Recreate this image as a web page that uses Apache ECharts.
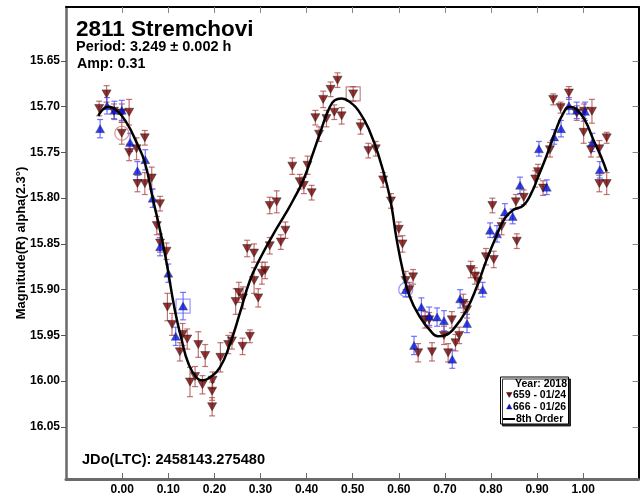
<!DOCTYPE html>
<html>
<head>
<meta charset="utf-8">
<script src="https://cdn.jsdelivr.net/npm/echarts@6/dist/echarts.min.js"></script>
<style>
html,body{margin:0;padding:0;background:#fff;}
#chart{width:640px;height:495px;}
</style>
</head>
<body>
<div id="chart"></div>
<script>
// ---- data: [phase, magnitude, error] ----
var session659 = [
  [-0.050,15.702,0.008],[-0.034,15.686,0.009],[-0.018,15.705,0.008],[-0.001,15.707,0.010],
  [0.015,15.706,0.014],[-0.001,15.729,0.012],[0.015,15.750,0.009],[0.031,15.746,0.012],
  [0.049,15.734,0.008],[0.033,15.784,0.009],[0.049,15.784,0.012],[0.064,15.778,0.012],
  [0.082,15.806,0.008],[0.075,15.830,0.010],[0.082,15.849,0.010],[0.096,15.858,0.009],
  [0.271,15.855,0.009],[0.286,15.860,0.010],
  [0.098,15.919,0.015],[0.108,15.938,0.012],[0.131,15.949,0.012],[0.141,15.954,0.011],
  [0.125,15.968,0.010],[0.165,15.960,0.014],[0.180,15.972,0.012],[0.147,16.001,0.016],
  [0.158,15.995,0.011],[0.174,16.004,0.010],[0.196,15.999,0.009],[0.195,16.011,0.010],
  [0.195,16.028,0.010],[0.213,15.974,0.016],[0.230,15.960,0.010],[0.238,15.956,0.009],
  [0.261,15.962,0.009],[0.277,15.951,0.007],[0.246,15.913,0.014],[0.253,15.903,0.011],
  [0.262,15.909,0.012],[0.295,15.909,0.010],[0.286,15.890,0.014],[0.303,15.882,0.012],
  [0.310,15.879,0.009],[0.320,15.808,0.009],[0.335,15.804,0.012],[0.320,15.852,0.009],
  [0.344,15.848,0.008],[0.354,15.835,0.009],
  [0.467,15.671,0.008],[0.452,15.681,0.008],[0.436,15.692,0.009],[0.501,15.686,0.008],
  [0.419,15.712,0.008],[0.443,15.713,0.009],[0.460,15.706,0.008],[0.476,15.710,0.009],
  [0.427,15.730,0.008],[0.517,15.722,0.008],[0.534,15.748,0.008],[0.550,15.746,0.008],
  [0.566,15.780,0.008],[0.583,15.803,0.008],[0.600,15.834,0.008],[0.369,15.765,0.009],
  [0.402,15.764,0.010],[0.385,15.782,0.008],[0.394,15.786,0.009],[0.411,15.794,0.008],
  [0.608,15.850,0.009],[0.615,15.890,0.010],[0.631,15.886,0.008],[0.623,15.900,0.008],
  [0.657,15.933,0.009],[0.666,15.933,0.008],[0.642,15.969,0.010],[0.672,15.968,0.010],
  [0.698,15.950,0.010],[0.715,15.933,0.009],[0.707,15.969,0.010],[0.723,15.958,0.009],
  [0.731,15.950,0.009],[0.740,15.915,0.010],[0.748,15.922,0.009],[0.756,15.878,0.009],
  [0.765,15.885,0.009],[0.772,15.891,0.009],[0.789,15.864,0.009],[0.806,15.867,0.009],
  [0.823,15.831,0.009],[0.856,15.847,0.008],[0.803,15.808,0.008],[0.854,15.804,0.008],
  [0.935,15.692,0.006],[0.951,15.701,0.006],[0.969,15.685,0.007],[0.986,15.707,0.008],
  [1.002,15.705,0.008],[1.019,15.705,0.013],[1.001,15.728,0.012],[1.017,15.747,0.008],
  [1.035,15.746,0.009],[1.051,15.734,0.006],[1.035,15.784,0.009],[1.051,15.784,0.012],
  [0.928,15.747,0.008],[0.902,15.771,0.008],[0.896,15.779,0.009],[0.913,15.789,0.008],
  [0.871,15.799,0.008]
];
var session666 = [
  [-0.048,15.724,0.010],[-0.033,15.699,0.009],[-0.017,15.704,0.010],[-0.001,15.704,0.011],
  [0.017,15.739,0.010],[0.033,15.770,0.010],[0.050,15.758,0.011],[0.066,15.800,0.010],
  [0.082,15.853,0.010],[0.100,15.882,0.010],[0.132,15.918,0.015],[0.116,15.951,0.010],
  [0.615,15.900,0.008],[0.649,15.919,0.010],[0.666,15.929,0.010],[0.683,15.930,0.010],
  [0.698,15.934,0.011],[0.633,15.961,0.010],[0.716,15.976,0.010],[0.733,15.910,0.010],
  [0.748,15.937,0.010],[0.782,15.900,0.008],[0.798,15.835,0.008],[0.813,15.839,0.009],
  [0.830,15.815,0.009],[0.847,15.820,0.008],[0.969,15.699,0.009],[0.986,15.704,0.009],
  [1.004,15.705,0.010],[0.952,15.724,0.009],[0.937,15.733,0.008],[0.904,15.746,0.008],
  [1.020,15.739,0.010],[1.036,15.769,0.009],[0.921,15.788,0.008],[0.863,15.786,0.009]
];
var fitCurve = [
  [-0.052,15.710],[-0.030,15.700],[-0.012,15.704],[0.010,15.718],[0.031,15.739],
  [0.049,15.761],[0.067,15.802],[0.082,15.835],[0.096,15.870],[0.114,15.922],
  [0.129,15.955],[0.143,15.980],[0.161,15.996],[0.176,15.999],[0.190,15.996],
  [0.212,15.985],[0.234,15.959],[0.255,15.926],[0.277,15.890],[0.299,15.866],
  [0.327,15.840],[0.353,15.818],[0.371,15.802],[0.393,15.780],[0.411,15.755],
  [0.429,15.729],[0.447,15.704],[0.461,15.693],[0.476,15.691],[0.494,15.695],
  [0.516,15.707],[0.537,15.727],[0.559,15.758],[0.577,15.791],[0.585,15.811],
  [0.595,15.844],[0.610,15.882],[0.624,15.908],[0.646,15.930],[0.667,15.944],
  [0.685,15.951],[0.700,15.950],[0.722,15.941],[0.747,15.922],[0.769,15.897],
  [0.790,15.868],[0.812,15.841],[0.830,15.822],[0.848,15.813],[0.870,15.808],
  [0.888,15.794],[0.902,15.777],[0.921,15.753],[0.939,15.728],[0.957,15.707],
  [0.971,15.700],[0.986,15.703],[1.004,15.715],[1.022,15.736],[1.040,15.756],
  [1.051,15.771]
];
var marked659Circle = [[-0.001,15.729]];
var marked659Square = [[0.501,15.686]];
var marked666Circle = [[0.615,15.900]];
var marked666Square = [[0.132,15.918]];
var xTicks = [0.0,0.1,0.2,0.3,0.4,0.5,0.6,0.7,0.8,0.9,1.0];
var yTicks = [15.65,15.70,15.75,15.80,15.85,15.90,15.95,16.00,16.05];
var legendNames = ['Year: 2018','659 - 01/24','666 - 01/26','8th Order'];

var FONT = '"Liberation Sans", Arial, Helvetica, sans-serif';
var X_MIN = -0.122, X_MAX = 1.12, Y_MIN = 15.591, Y_MAX = 16.107;
var RED = '#780000', BLUE = '#0010e0';

function errBars(color){
  return function(params, api){
    var x = api.value(0), y = api.value(1), e = api.value(2);
    var p1 = api.coord([x, y - e]);
    var p2 = api.coord([x, y + e]);
    var hw = 3;
    var st = {stroke: color, lineWidth: 1.2};
    return {type:'group', children:[
      {type:'line', shape:{x1:p1[0], y1:p1[1], x2:p2[0], y2:p2[1]}, style:st},
      {type:'line', shape:{x1:p1[0]-hw, y1:p1[1], x2:p1[0]+hw, y2:p1[1]}, style:st},
      {type:'line', shape:{x1:p2[0]-hw, y1:p2[1], x2:p2[0]+hw, y2:p2[1]}, style:st}
    ]};
  };
}

var chart = echarts.init(document.getElementById('chart'), null, {renderer:'canvas'});
function txt(size){ return {fontFamily:FONT, fontWeight:'bold', fontSize:size, color:'#000'}; }
function legText(str, x, y, align){
  return {type:'text', x:x, y:y, z:101, style:{text:str, font:'bold 10.5px ' + FONT, fill:'#000', align:align||'left', verticalAlign:'middle'}};
}

var option = {
  animation: false,
  backgroundColor: '#fff',
  textStyle: {fontFamily: FONT},
  title: [
    {text:'2811 Stremchovi', left:76, top:18, textStyle:txt(22.5), padding:0},
    {text:'Period: 3.249 \u00b1 0.002 h', left:76, top:39, textStyle:txt(14.5), padding:0},
    {text:'Amp: 0.31', left:77, top:57, textStyle:txt(14.3), padding:0},
    {text:'JDo(LTC): 2458143.275480', left:82, top:452, textStyle:txt(14.6), padding:0}
  ],
  graphic: [
    {type:'rect', shape:{x:500.5, y:377, width:68, height:47}, z:100,
     style:{fill:'#fff', stroke:'#000', lineWidth:1, shadowColor:'rgba(0,0,0,0.8)', shadowOffsetX:2, shadowOffsetY:2, shadowBlur:0}},
    legText(legendNames[0], 567, 384, 'right'),
    {type:'polygon', shape:{points:[[506.5,392.5],[512,392.5],[509.25,397.5]]}, z:101, style:{fill:RED, stroke:'#222', lineWidth:0.5}},
    legText(legendNames[1], 513, 395.5),
    {type:'polygon', shape:{points:[[506.5,409],[512,409],[509.25,404]]}, z:101, style:{fill:BLUE, stroke:'#222', lineWidth:0.4}},
    legText(legendNames[2], 513, 407),
    {type:'line', shape:{x1:503, y1:419, x2:515, y2:419}, z:101, style:{stroke:'#000', lineWidth:2}},
    legText(legendNames[3], 516, 419)
  ],
  grid: {left:66, top:7, right:1.5, bottom:16, show:false, outerBoundsMode:'none', containLabel:false},
  xAxis: [
    {type:'value', min:X_MIN, max:X_MAX, position:'bottom',
     axisLine:{show:true, onZero:false, lineStyle:{color:'#6a6a6a', width:3}},
     axisTick:{show:true, inside:true, length:6, customValues:xTicks, lineStyle:{color:'#6a6a6a', width:1}},
     axisLabel:{show:true, customValues:xTicks, margin:5, formatter:function(v){return v.toFixed(2);}, fontFamily:FONT, fontWeight:'bold', fontSize:12, color:'#000'},
     splitLine:{show:false}},
    {type:'value', min:X_MIN, max:X_MAX, position:'top',
     axisLine:{show:true, onZero:false, lineStyle:{color:'#000', width:2}},
     axisTick:{show:true, inside:true, length:6, customValues:xTicks, lineStyle:{color:'#888', width:1}},
     axisLabel:{show:false}, splitLine:{show:false}}
  ],
  yAxis: [
    {type:'value', inverse:true, min:Y_MIN, max:Y_MAX, position:'left',
     name:'Magnitude(R) alpha(2.3\u00b0)', nameLocation:'middle', nameGap:38, nameRotate:90,
     nameMoveOverlap:false,
     nameTextStyle:{fontFamily:FONT, fontWeight:'bold', fontSize:13, color:'#000'},
     axisLine:{show:true, onZero:false, lineStyle:{color:'#6a6a6a', width:2.5}},
     axisTick:{show:true, inside:false, length:5, customValues:yTicks, lineStyle:{color:'#555', width:1}},
     axisLabel:{show:true, customValues:yTicks, margin:6, formatter:function(v){return v.toFixed(2);}, fontFamily:FONT, fontWeight:'bold', fontSize:12, color:'#000'},
     splitLine:{show:false}},
    {type:'value', inverse:true, min:Y_MIN, max:Y_MAX, position:'right',
     axisLine:{show:true, onZero:false, lineStyle:{color:'#000', width:2}},
     axisTick:{show:true, inside:true, length:6, customValues:yTicks, lineStyle:{color:'#888', width:1}},
     axisLabel:{show:false}, splitLine:{show:false}}
  ],
  series: [
    {type:'custom', renderItem: errBars('rgba(170,70,70,0.75)'), data: session659, encode:{x:0,y:1}, z:2, silent:true},
    {type:'custom', renderItem: errBars('rgba(80,80,255,0.8)'), data: session666, encode:{x:0,y:1}, z:2, silent:true},
    {type:'scatter', data: marked659Circle, symbol:'circle', symbolSize:14, z:3,
     itemStyle:{color:'rgba(0,0,0,0)', borderColor:'rgba(190,90,90,0.8)', borderWidth:1.2}},
    {type:'scatter', data: marked659Square, symbol:'rect', symbolSize:14, z:3,
     itemStyle:{color:'rgba(0,0,0,0)', borderColor:'rgba(160,60,60,0.8)', borderWidth:1.2}},
    {type:'scatter', data: marked666Circle, symbol:'circle', symbolSize:14, z:3,
     itemStyle:{color:'rgba(0,0,0,0)', borderColor:'rgba(90,90,255,0.8)', borderWidth:1.2}},
    {type:'scatter', data: marked666Square, symbol:'rect', symbolSize:14, z:3,
     itemStyle:{color:'rgba(0,0,0,0)', borderColor:'rgba(90,90,255,0.8)', borderWidth:1.2}},
    {name: legendNames[1], type:'scatter', data: session659, symbol:'triangle', symbolRotate:180, symbolSize:[9,8], z:4,
     encode:{x:0,y:1},
     itemStyle:{color:RED, borderColor:'#222', borderWidth:0.6}},
    {name: legendNames[2], type:'scatter', data: session666, symbol:'triangle', symbolSize:[9,8], z:4,
     encode:{x:0,y:1},
     itemStyle:{color:BLUE, borderColor:'#222', borderWidth:0.4}},
    {name: legendNames[3], type:'line', data: fitCurve, smooth:0.5, symbol:'none', showSymbol:false, z:5,
     lineStyle:{color:'#000', width:2.5}, itemStyle:{color:'#000'}}
  ]
};
chart.setOption(option);
</script>
</body>
</html>
